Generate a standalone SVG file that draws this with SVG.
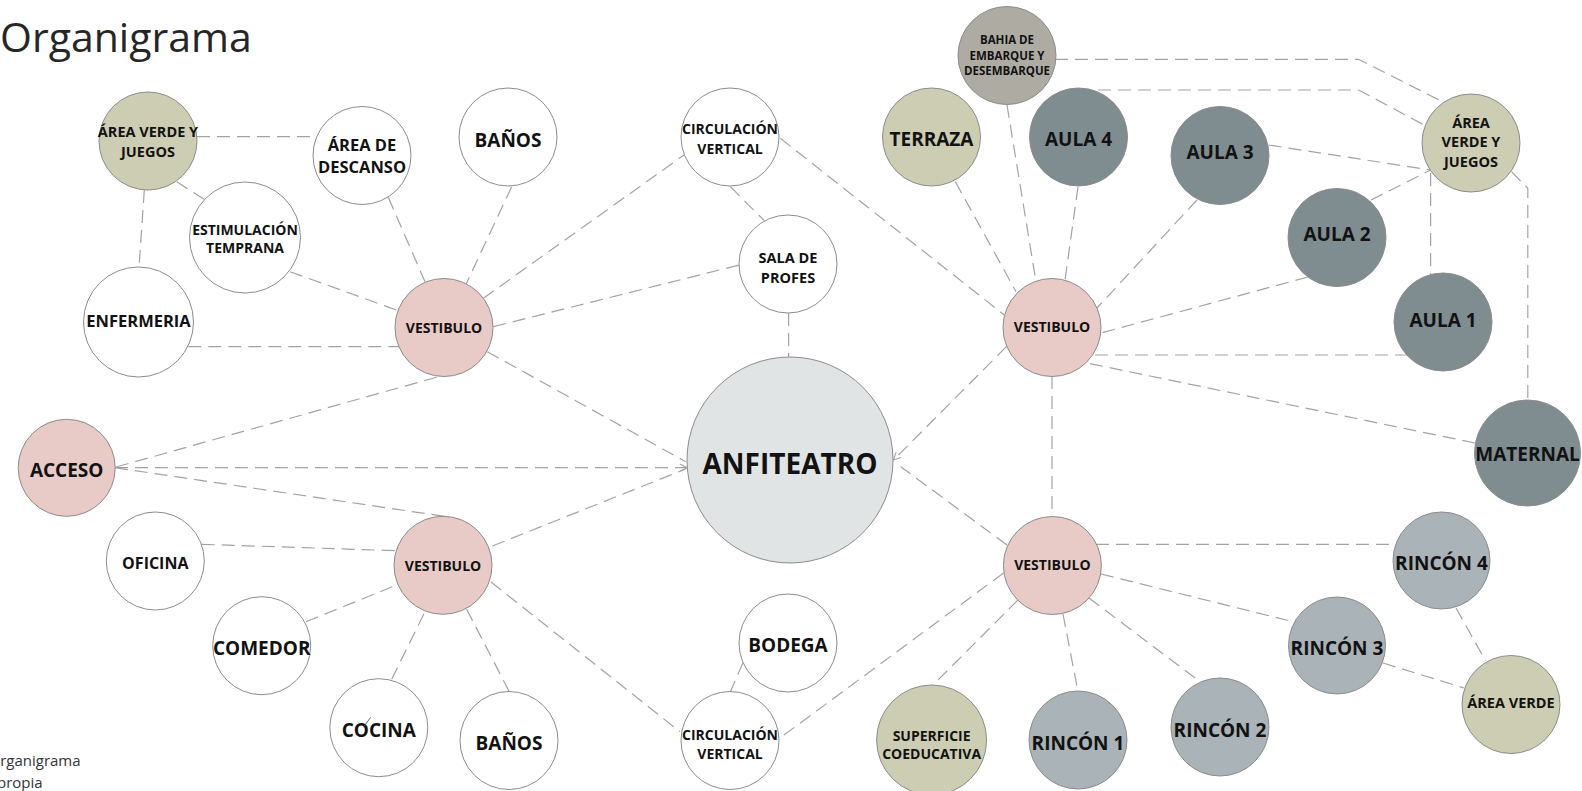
<svg xmlns="http://www.w3.org/2000/svg" width="1582" height="791" viewBox="0 0 1582 791">
  <style>
    .bg { fill: #ffffff; }
    .node { stroke: #8c8c8c; stroke-width: 1; }
    .white { fill: #ffffff; }
    .pink { fill: #e8cac6; }
    .olive { fill: #cdcdb3; }
    .slate { fill: #7f8c90; }
    .light { fill: #aab3b7; }
    .taupe { fill: #aeaba3; }
    .hall { fill: #e0e4e4; }
    .lbl { font-family: "Open Sans", "Liberation Sans", sans-serif; font-weight: 700; fill: #121212; text-anchor: middle; }
    .link { fill: none; stroke: #a3a3a3; stroke-width: 1.2; stroke-dasharray: 13 7; }
    .title { font-family: "Open Sans", "Liberation Sans", sans-serif; font-size: 41px; fill: #262626; }
    .note { font-family: "Open Sans", "Liberation Sans", sans-serif; font-size: 15px; fill: #333333; }
  </style>
  <defs>
    <marker id="chev" viewBox="0 0 10 10" refX="9" refY="5" markerWidth="9" markerHeight="9" markerUnits="userSpaceOnUse" orient="auto">
      <path d="M1,1 L9,5 L1,9" fill="none" stroke="#a3a3a3" stroke-width="1.2"/>
    </marker>
  </defs>

  <rect class="bg" x="0" y="0" width="1582" height="791"/>

  <text class="title" x="0" y="52">Organigrama</text>
  <!-- caption block runs off the left edge of the sheet -->
  <text class="note" x="-11.5" y="766">Organigrama</text>
  <text class="note" x="-3" y="788">propia</text>

  <!-- connectors -->
  <g id="connectors">
    <line class="link" x1="197" y1="136.7" x2="316" y2="136.7"/>
    <line class="link" x1="176.7" y1="181.7" x2="204" y2="199.3"/>
    <line class="link" x1="144.3" y1="190" x2="139" y2="267.3"/>
    <line class="link" x1="290" y1="271.7" x2="398.3" y2="310.7"/>
    <line class="link" x1="188.3" y1="346.7" x2="400" y2="346.7"/>
    <line class="link" x1="388.3" y1="197.3" x2="425" y2="281.7"/>
    <line class="link" x1="511.7" y1="186.7" x2="466" y2="284.3"/>
    <line class="link" x1="483.3" y1="298.3" x2="684" y2="155"/>
    <line class="link" x1="493.3" y1="326.7" x2="739.3" y2="265"/>
    <line class="link" x1="487.3" y1="351.7" x2="685.7" y2="461.7"/>
    <line class="link" x1="116" y1="467" x2="441" y2="376"/>
    <line class="link" x1="115" y1="467.7" x2="687" y2="467.7" marker-end="url(#chev)"/>
    <line class="link" x1="115" y1="467.7" x2="446.7" y2="516.7"/>
    <line class="link" x1="201.7" y1="544.3" x2="396.7" y2="550.7"/>
    <line class="link" x1="306" y1="621.7" x2="396.7" y2="585"/>
    <line class="link" x1="391.7" y1="679.3" x2="425" y2="611.7"/>
    <line class="link" x1="509.3" y1="691.7" x2="466.7" y2="609.3"/>
    <line class="link" x1="492.4" y1="546" x2="685.7" y2="469"/>
    <line class="link" x1="491" y1="582" x2="680" y2="731.7"/>
    <line class="link" x1="730.4" y1="186.7" x2="764.3" y2="220.7"/>
    <line class="link" x1="780.4" y1="138.3" x2="1004.3" y2="315"/>
    <line class="link" x1="788.6" y1="313" x2="788.6" y2="356.7"/>
    <line class="link" x1="743" y1="662.7" x2="730.4" y2="691.7"/>
    <line class="link" x1="1003.6" y1="573" x2="778.6" y2="739"/>
    <line class="link" x1="1018" y1="600" x2="932" y2="686"/>
    <line class="link" x1="1007" y1="545" x2="900.7" y2="466.7"/>
    <line class="link" x1="1006.4" y1="346.7" x2="893.5" y2="460" marker-end="url(#chev)"/>
    <line class="link" x1="955.4" y1="181.7" x2="1016" y2="291.7"/>
    <line class="link" x1="1007" y1="105" x2="1035.7" y2="280"/>
    <line class="link" x1="1078" y1="187" x2="1065" y2="280"/>
    <line class="link" x1="1197" y1="200" x2="1097" y2="308"/>
    <line class="link" x1="1308" y1="277" x2="1101" y2="333"/>
    <line class="link" x1="1408" y1="355" x2="1091" y2="355"/>
    <line class="link" x1="1475" y1="443" x2="1087" y2="363"/>
    <line class="link" x1="1052" y1="376" x2="1052" y2="517"/>
    <polyline class="link" points="1055,59.3 1358.6,59.3 1442.5,101.7"/>
    <polyline class="link" points="1078,90 1358.6,90 1426,126"/>
    <line class="link" x1="1268.7" y1="145" x2="1430.6" y2="170"/>
    <line class="link" x1="1371" y1="200" x2="1430.6" y2="170"/>
    <line class="link" x1="1430.6" y1="173" x2="1430.6" y2="275"/>
    <polyline class="link" points="1511.5,171.7 1527.8,188.3 1527.8,400"/>
    <line class="link" x1="1096" y1="544.3" x2="1396" y2="544.3"/>
    <line class="link" x1="1101" y1="574" x2="1293" y2="621.7"/>
    <line class="link" x1="1456" y1="608" x2="1485.5" y2="660.7"/>
    <line class="link" x1="1383" y1="663" x2="1464" y2="688"/>
    <line class="link" x1="1063" y1="614" x2="1078" y2="691.7"/>
    <line class="link" x1="1089" y1="598" x2="1200" y2="681.7"/>
  </g>

  <!-- nodes -->
  <g id="area-verde-juegos-izq">
    <circle class="node olive" cx="148" cy="141" r="49"/>
    <text class="lbl" font-size="14.5" x="148" y="137">ÁREA VERDE Y</text>
    <text class="lbl" font-size="14.5" x="148" y="157.3">JUEGOS</text>
  </g>
  <g id="area-descanso">
    <circle class="node white" cx="362" cy="155.5" r="49"/>
    <text class="lbl" font-size="16.5" x="362" y="150.7">ÁREA DE</text>
    <text class="lbl" font-size="16.5" x="362" y="173.3">DESCANSO</text>
  </g>
  <g id="banos-sup">
    <circle class="node white" cx="508" cy="137" r="49"/>
    <text class="lbl" font-size="19" x="508" y="146.5">BAÑOS</text>
  </g>
  <g id="estimulacion">
    <circle class="node white" cx="245" cy="237.5" r="55.5"/>
    <text class="lbl" font-size="14" x="245" y="235">ESTIMULACIÓN</text>
    <text class="lbl" font-size="14" x="245" y="253.3">TEMPRANA</text>
  </g>
  <g id="enfermeria">
    <circle class="node white" cx="138.5" cy="322" r="55"/>
    <text class="lbl" font-size="16.5" x="138.5" y="327">ENFERMERIA</text>
  </g>
  <g id="vestibulo-1">
    <circle class="node pink" cx="444" cy="327.5" r="49"/>
    <text class="lbl" font-size="14" x="444" y="332.7">VESTIBULO</text>
  </g>
  <g id="circulacion-sup">
    <circle class="node white" cx="730" cy="137" r="49"/>
    <text class="lbl" font-size="14" x="730" y="134">CIRCULACIÓN</text>
    <text class="lbl" font-size="14" x="730" y="154">VERTICAL</text>
  </g>
  <g id="sala-profes">
    <circle class="node white" cx="788" cy="264" r="49"/>
    <text class="lbl" font-size="14.5" x="788" y="263.3">SALA DE</text>
    <text class="lbl" font-size="14.5" x="788" y="283.3">PROFES</text>
  </g>
  <g id="anfiteatro">
    <circle class="node hall" cx="790" cy="460" r="103"/>
    <text class="lbl" font-size="28" x="790" y="473.5">ANFITEATRO</text>
  </g>
  <g id="acceso">
    <circle class="node pink" cx="66.7" cy="467.8" r="48.5"/>
    <text class="lbl" font-size="19" x="66.7" y="477">ACCESO</text>
  </g>
  <g id="oficina">
    <circle class="node white" cx="155.3" cy="561" r="49"/>
    <text class="lbl" font-size="16" x="155.3" y="569.3">OFICINA</text>
  </g>
  <g id="vestibulo-2">
    <circle class="node pink" cx="443" cy="565.3" r="49"/>
    <text class="lbl" font-size="14" x="443" y="570.7">VESTIBULO</text>
  </g>
  <g id="comedor">
    <circle class="node white" cx="261.7" cy="645.7" r="49"/>
    <text class="lbl" font-size="19" x="261.7" y="655">COMEDOR</text>
  </g>
  <g id="cocina">
    <circle class="node white" cx="378.8" cy="727.7" r="49"/>
    <text class="lbl" font-size="19" x="378.8" y="736.7">COCINA</text>
    <line x1="363.3" y1="727.3" x2="370.7" y2="717.3" stroke="#444" stroke-width="0.8"/>
  </g>
  <g id="banos-inf">
    <circle class="node white" cx="509" cy="740.5" r="49"/>
    <text class="lbl" font-size="19" x="509" y="750">BAÑOS</text>
  </g>
  <g id="bodega">
    <circle class="node white" cx="788" cy="643" r="49"/>
    <text class="lbl" font-size="19" x="788" y="651.7">BODEGA</text>
  </g>
  <g id="circulacion-inf">
    <circle class="node white" cx="730" cy="740.5" r="49"/>
    <text class="lbl" font-size="14" x="730" y="740">CIRCULACIÓN</text>
    <text class="lbl" font-size="14" x="730" y="759.3">VERTICAL</text>
  </g>
  <g id="superficie">
    <circle class="node olive" cx="931.6" cy="740" r="55"/>
    <text class="lbl" font-size="14" x="931.6" y="740.7">SUPERFICIE</text>
    <text class="lbl" font-size="14" x="931.6" y="759.3">COEDUCATIVA</text>
  </g>
  <g id="terraza">
    <circle class="node olive" cx="931.5" cy="137" r="49"/>
    <text class="lbl" font-size="19" x="931.5" y="145.7">TERRAZA</text>
  </g>
  <g id="bahia">
    <circle class="node taupe" cx="1007" cy="55.5" r="49"/>
    <text class="lbl" font-size="11.5" x="1007" y="44">BAHIA DE</text>
    <text class="lbl" font-size="11.5" x="1007" y="60">EMBARQUE Y</text>
    <text class="lbl" font-size="11.5" x="1007" y="75.3">DESEMBARQUE</text>
  </g>
  <g id="aula-4">
    <circle class="node slate" cx="1078.5" cy="137" r="49"/>
    <text class="lbl" font-size="19" x="1078.5" y="145.7">AULA 4</text>
  </g>
  <g id="aula-3">
    <circle class="node slate" cx="1220" cy="155.5" r="49"/>
    <text class="lbl" font-size="19" x="1220" y="158.5">AULA 3</text>
  </g>
  <g id="aula-2">
    <circle class="node slate" cx="1337" cy="237.5" r="49"/>
    <text class="lbl" font-size="19" x="1337" y="240.7">AULA 2</text>
  </g>
  <g id="aula-1">
    <circle class="node slate" cx="1443" cy="322" r="49"/>
    <text class="lbl" font-size="19" x="1443" y="326.7">AULA 1</text>
  </g>
  <g id="area-verde-juegos-der">
    <circle class="node olive" cx="1471" cy="143" r="49"/>
    <text class="lbl" font-size="14.5" x="1471" y="128.3">ÁREA</text>
    <text class="lbl" font-size="14.5" x="1471" y="147.3">VERDE Y</text>
    <text class="lbl" font-size="14.5" x="1471" y="166.7">JUEGOS</text>
  </g>
  <g id="vestibulo-3">
    <circle class="node pink" cx="1052" cy="327.5" r="49"/>
    <text class="lbl" font-size="14" x="1052" y="332.3">VESTIBULO</text>
  </g>
  <g id="maternal">
    <circle class="node slate" cx="1527.5" cy="453" r="53"/>
    <text class="lbl" font-size="19" x="1527.5" y="460.5">MATERNAL</text>
  </g>
  <g id="vestibulo-4">
    <circle class="node pink" cx="1052.4" cy="565.5" r="49"/>
    <text class="lbl" font-size="14" x="1052.4" y="570">VESTIBULO</text>
  </g>
  <g id="rincon-4">
    <circle class="node light" cx="1441.5" cy="560.5" r="48.5"/>
    <text class="lbl" font-size="19" x="1441.5" y="570">RINCÓN 4</text>
  </g>
  <g id="rincon-3">
    <circle class="node light" cx="1337" cy="645.5" r="48.5"/>
    <text class="lbl" font-size="19" x="1337" y="655">RINCÓN 3</text>
  </g>
  <g id="area-verde">
    <circle class="node olive" cx="1511" cy="704.5" r="49"/>
    <text class="lbl" font-size="14.5" x="1511" y="708.3">ÁREA VERDE</text>
  </g>
  <g id="rincon-1">
    <circle class="node light" cx="1078" cy="740" r="49"/>
    <text class="lbl" font-size="19" x="1078" y="750">RINCÓN 1</text>
  </g>
  <g id="rincon-2">
    <circle class="node light" cx="1220" cy="727" r="49"/>
    <text class="lbl" font-size="19" x="1220" y="736.5">RINCÓN 2</text>
  </g>
</svg>
